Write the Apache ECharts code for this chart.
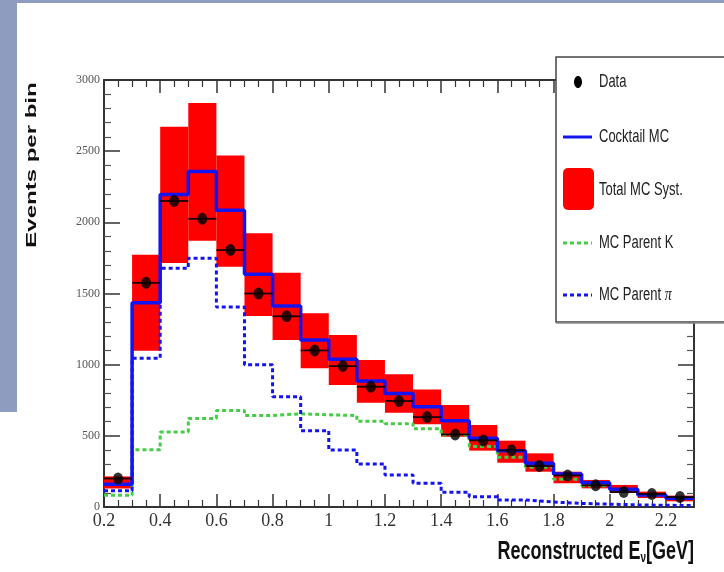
<!DOCTYPE html>
<html>
<head>
<meta charset="utf-8">
<script src="https://cdn.jsdelivr.net/npm/echarts@6.0.0/dist/echarts.min.js"></script>
<style>
  html, body { margin: 0; padding: 0; background: #ffffff; }
  #chart { width: 724px; height: 572px; }
</style>
</head>
<body>
<div id="chart"></div>
<script>
// ---- data ----
const binEdges = [0.2, 0.3, 0.4, 0.5, 0.6, 0.7, 0.8, 0.9, 1.0, 1.1, 1.2, 1.3, 1.4, 1.5, 1.6, 1.7, 1.8, 1.9, 2.0, 2.1, 2.2, 2.3];
const binCenters = [0.25, 0.35, 0.45, 0.55, 0.65, 0.75, 0.85, 0.95, 1.05, 1.15, 1.25, 1.35, 1.45, 1.55, 1.65, 1.75, 1.85, 1.95, 2.05, 2.15, 2.25];
const dataValues = [200, 1575, 2150, 2025, 1805, 1500, 1340, 1100, 990, 845, 745, 632, 510, 468, 398, 288, 222, 152, 105, 92, 70];
const cocktailMC = [160, 1435, 2195, 2358, 2085, 1635, 1412, 1173, 1038, 885, 797, 705, 606, 483, 396, 307, 232, 171, 124, 84, 61];
const systLow = [130, 1098, 1714, 1871, 1688, 1342, 1173, 974, 857, 733, 663, 582, 494, 396, 311, 248, 167, 131, 100, 63, 40];
const systHigh = [215, 1772, 2672, 2838, 2470, 1923, 1646, 1361, 1208, 1033, 932, 825, 717, 576, 466, 377, 248, 190, 155, 108, 80];
const parentK = [82, 402, 527, 622, 678, 643, 655, 648, 643, 603, 585, 550, 505, 425, 350, 280, 195, 150, 118, 85, 62];
const parentPi = [115, 1045, 1677, 1748, 1405, 1000, 775, 536, 400, 302, 225, 167, 103, 72, 49, 35, 25, 20, 15, 12, 10];

// ---- helpers that turn per-bin values into step-line points ----
function stepPoints(values) {
  const pts = [];
  for (let i = 0; i < values.length; i++) {
    pts.push([binEdges[i], values[i]]);
    pts.push([binEdges[i + 1], values[i]]);
  }
  return pts;
}
const systData = systLow.map((lo, i) => [binEdges[i], binEdges[i + 1], lo, systHigh[i]]);
const errData = dataValues.map((v, i) => [binEdges[i], binEdges[i + 1], v]);
const scatterData = dataValues.map((v, i) => [binCenters[i], v]);

const BLUE = '#1414f0';
const GREEN = '#46cc46';
const RED = '#ff0000';
const AXIS = '#333333';

const chart = echarts.init(document.getElementById('chart'), null, { renderer: 'canvas' });

const tickCommon = {
  axisLine: { show: true, onZero: false, lineStyle: { color: AXIS, width: 2 } },
  splitLine: { show: false },
  minorSplitLine: { show: false }
};

const LZ = 100;
const legendFont = '13px "Liberation Sans", Arial, sans-serif';

const option = {
  animation: false,
  backgroundColor: '#ffffff',
  grid: { left: 104, right: 30, top: 80, bottom: 65, containLabel: false },
  xAxis: [
    Object.assign({
      type: 'value', min: 0.2, max: 2.3, interval: 0.2, position: 'bottom',
      axisTick: { show: true, inside: true, length: 13, lineStyle: { color: AXIS, width: 1.5 } },
      minorTick: { show: true, splitNumber: 4, length: 7, lineStyle: { color: AXIS, width: 1.2 } },
      axisLabel: {
        show: true, margin: 5, color: '#333333',
        fontFamily: 'Liberation Serif', fontSize: 18,
        formatter: function (v) { return v > 2.25 ? '' : String(Math.round(v * 10) / 10); }
      }
    }, tickCommon),
    Object.assign({
      type: 'value', min: 0.2, max: 2.3, interval: 0.2, position: 'top',
      axisTick: { show: true, inside: true, length: 13, lineStyle: { color: AXIS, width: 1.5 } },
      minorTick: { show: true, splitNumber: 4, length: 7, lineStyle: { color: AXIS, width: 1.2 } },
      axisLabel: { show: false }
    }, tickCommon)
  ],
  yAxis: [
    Object.assign({
      type: 'value', min: 0, max: 3000, interval: 500, position: 'left',
      axisTick: { show: true, inside: true, length: 16, lineStyle: { color: AXIS, width: 1.5 } },
      minorTick: { show: true, splitNumber: 5, length: 7, lineStyle: { color: '#555555', width: 1.2 } },
      axisLabel: {
        show: true, margin: 4, color: '#555555', fontFamily: 'Liberation Serif', fontSize: 12,
        formatter: function (v) { return String(v); }
      }
    }, tickCommon),
    Object.assign({
      type: 'value', min: 0, max: 3000, interval: 500, position: 'right',
      axisTick: { show: true, inside: true, length: 16, lineStyle: { color: AXIS, width: 1.5 } },
      minorTick: { show: true, splitNumber: 5, length: 7, lineStyle: { color: '#555555', width: 1.2 } },
      axisLabel: { show: false }
    }, tickCommon)
  ],
  series: [
    {
      name: 'Total MC Syst.', type: 'custom', xAxisIndex: 0, yAxisIndex: 0, z: 1,
      data: systData,
      encode: { x: [0, 1], y: [2, 3] },
      renderItem: function (params, api) {
        const p1 = api.coord([api.value(0), api.value(3)]);
        const p2 = api.coord([api.value(1), api.value(2)]);
        return {
          type: 'rect',
          shape: { x: p1[0], y: p1[1], width: p2[0] - p1[0], height: p2[1] - p1[1] },
          style: { fill: RED, stroke: null }
        };
      }
    },
    {
      name: 'MC Parent K', type: 'line', xAxisIndex: 0, yAxisIndex: 0, z: 3,
      data: stepPoints(parentK), showSymbol: false, symbol: 'none',
      lineStyle: { color: GREEN, width: 3, type: [4, 3] }
    },
    {
      name: 'MC Parent \u03c0', type: 'line', xAxisIndex: 0, yAxisIndex: 0, z: 3,
      data: stepPoints(parentPi), showSymbol: false, symbol: 'none',
      lineStyle: { color: BLUE, width: 3, type: [4, 3] }
    },
    {
      name: 'Cocktail MC', type: 'line', xAxisIndex: 0, yAxisIndex: 0, z: 4,
      data: stepPoints(cocktailMC), showSymbol: false, symbol: 'none',
      lineStyle: { color: BLUE, width: 3.5 }
    },
    {
      name: 'Data error', type: 'custom', xAxisIndex: 0, yAxisIndex: 0, z: 5,
      data: errData,
      encode: { x: [0, 1], y: 2 },
      renderItem: function (params, api) {
        const a = api.coord([api.value(0), api.value(2)]);
        const b = api.coord([api.value(1), api.value(2)]);
        return {
          type: 'line',
          shape: { x1: a[0], y1: a[1], x2: b[0], y2: b[1] },
          style: { stroke: '#1a0000', lineWidth: 1.8 }
        };
      }
    },
    {
      name: 'Data', type: 'scatter', xAxisIndex: 0, yAxisIndex: 0, z: 6,
      data: scatterData, symbol: 'circle', symbolSize: [10, 12],
      itemStyle: { color: '#000000' }
    }
  ],
  graphic: [
    { type: 'rect', z: 0, shape: { x: 0, y: 0, width: 17, height: 412 }, style: { fill: '#8d9cbf' } },
    { type: 'rect', z: 0, shape: { x: 0, y: 0, width: 724, height: 3 }, style: { fill: '#8d9cbf' } },
    {
      type: 'text', z: 50, x: 32, y: 165, rotation: Math.PI / 2, scaleX: 1.6,
      style: {
        text: 'Events per bin', fill: '#111111',
        font: 'bold 15px "Liberation Sans", Arial, sans-serif',
        align: 'center', verticalAlign: 'middle'
      }
    },
    {
      type: 'text', z: 50, x: 694, y: 552, scaleY: 1.4,
      style: {
        text: '{a|Reconstructed E}{s|\u03bd}{a|[GeV]}',
        fill: '#111111', align: 'right', verticalAlign: 'middle',
        rich: {
          a: { fontFamily: 'Liberation Sans', fontWeight: 'bold', fontSize: 18, fill: '#111111', color: '#111111' },
          s: { fontFamily: 'Liberation Sans', fontWeight: 'bold', fontSize: 10, fill: '#111111', color: '#111111', verticalAlign: 'bottom', padding: [9, 0, 0, 0] }
        }
      }
    },
    { type: 'rect', z: LZ, shape: { x: 556, y: 57, width: 200, height: 265 }, style: { fill: '#ffffff', stroke: '#444444', lineWidth: 1.5 } },
    { type: 'line', z: LZ, shape: { x1: 556, y1: 323, x2: 724, y2: 323 }, style: { stroke: '#888888', lineWidth: 1.5 } },
    { type: 'ellipse', z: LZ + 1, shape: { cx: 578, cy: 82, rx: 4, ry: 6 }, style: { fill: '#000000' } },
    { type: 'line', z: LZ + 1, shape: { x1: 563, y1: 137, x2: 592, y2: 137 }, style: { stroke: BLUE, lineWidth: 3 } },
    { type: 'rect', z: LZ + 1, shape: { x: 563, y: 168, width: 31, height: 42, r: 5 }, style: { fill: RED } },
    { type: 'line', z: LZ + 1, shape: { x1: 563, y1: 243, x2: 592, y2: 243 }, style: { stroke: GREEN, lineWidth: 3, lineDash: [4, 3] } },
    { type: 'line', z: LZ + 1, shape: { x1: 563, y1: 295, x2: 592, y2: 295 }, style: { stroke: BLUE, lineWidth: 3, lineDash: [4, 3] } },
    { type: 'text', z: LZ + 1, x: 599, y: 82, scaleY: 1.35, style: { text: 'Data', font: legendFont, fill: '#222222', verticalAlign: 'middle' } },
    { type: 'text', z: LZ + 1, x: 599, y: 137, scaleY: 1.35, style: { text: 'Cocktail MC', font: legendFont, fill: '#222222', verticalAlign: 'middle' } },
    { type: 'text', z: LZ + 1, x: 599, y: 190, scaleY: 1.35, style: { text: 'Total MC Syst.', font: legendFont, fill: '#222222', verticalAlign: 'middle' } },
    { type: 'text', z: LZ + 1, x: 599, y: 243, scaleY: 1.35, style: { text: 'MC Parent K', font: legendFont, fill: '#222222', verticalAlign: 'middle' } },
    {
      type: 'text', z: LZ + 1, x: 599, y: 295, scaleY: 1.35,
      style: {
        text: 'MC Parent {p|\u03c0}', font: legendFont, fill: '#222222', verticalAlign: 'middle',
        rich: { p: { fontFamily: 'Liberation Serif', fontStyle: 'italic', fontSize: 14, fill: '#222222', color: '#222222' } }
      }
    }
  ]
};

chart.setOption(option);
</script>
</body>
</html>
